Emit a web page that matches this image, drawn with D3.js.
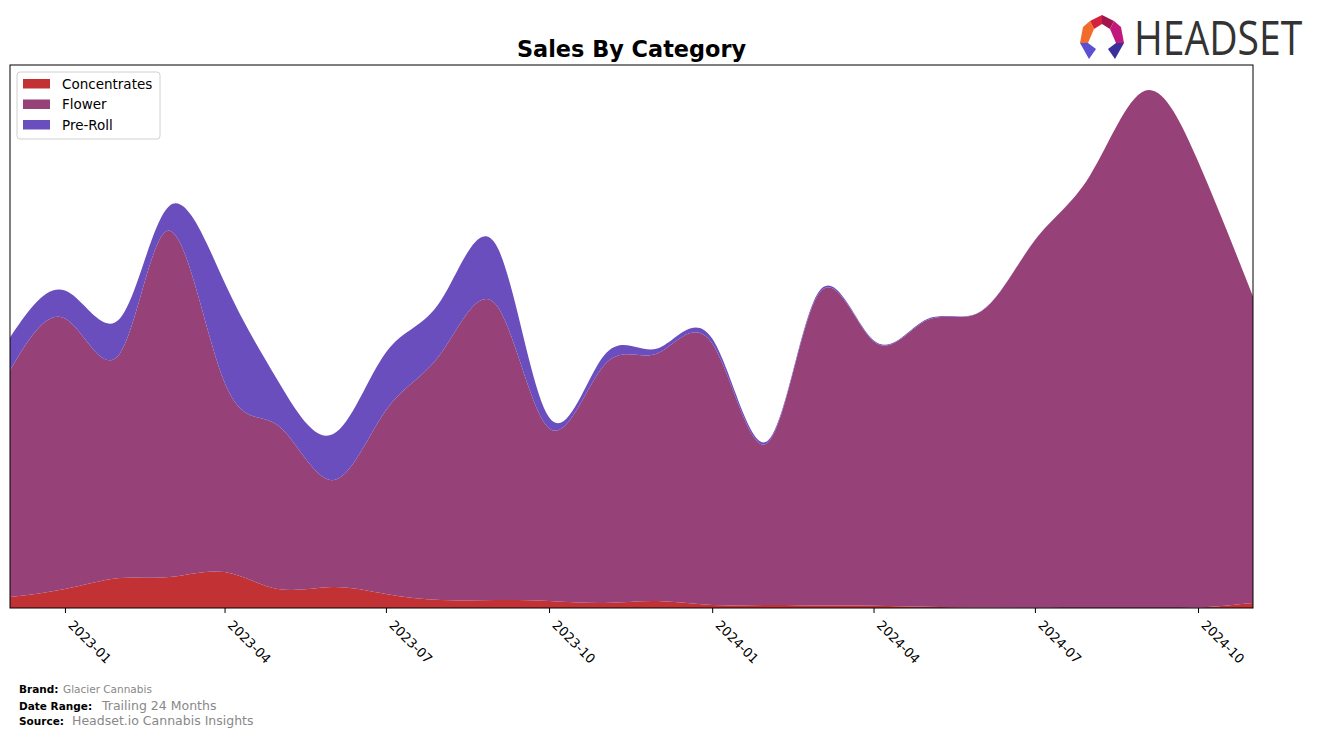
<!DOCTYPE html>
<html>
<head>
<meta charset="utf-8">
<script src="https://cdn.jsdelivr.net/npm/d3@7"></script>
<style>
  body { margin: 0; background: #fff; }
  text { font-family: "DejaVu Sans", sans-serif; }
</style>
</head>
<body>
<div id="plot"></div>
<script>
// monthly sales, arbitrary units
const months = ["2022-12","2023-01","2023-02","2023-03","2023-04","2023-05","2023-06","2023-07",
  "2023-08","2023-09","2023-10","2023-11","2023-12","2024-01","2024-02","2024-03","2024-04",
  "2024-05","2024-06","2024-07","2024-08","2024-09","2024-10","2024-11"];
const concentrates = [11,19,30,31,36,19,21,14,8,8,7,5,7,3,3,2.5,2.3,1.3,0.5,0.3,0,0,0.5,5];
const flower = [227,271,225,347,190,164,107,184,247,296,173,238,248,262,162,312,265,287,297,368,433,518,447,307];
const preRoll = [33,28,35,25,100,45,46,58,53,60,11,10,5,5,2,2,1,1,0.3,0.2,0,0,0,0];

const keys = ["Concentrates", "Flower", "Pre-Roll"];
const colors = {"Concentrates": "#c23234", "Flower": "#964177", "Pre-Roll": "#6a4ebd"};

const parse = d3.timeParse("%Y-%m");
const rows = months.map((m, i) => ({
  date: parse(m),
  "Concentrates": concentrates[i],
  "Flower": flower[i],
  "Pre-Roll": preRoll[i]
}));

const W = 1317, H = 738;
const margin = {top: 65, right: 64, bottom: 130, left: 10};
const width = W - margin.left - margin.right;
const height = H - margin.top - margin.bottom;

const svg = d3.select("#plot").append("svg")
  .attr("width", W).attr("height", H);

svg.append("text")
  .attr("x", margin.left + width / 2).attr("y", 57)
  .attr("text-anchor", "middle")
  .style("font-size", "22.4px").style("font-weight", "bold")
  .text("Sales By Category");

svg.append("clipPath").attr("id", "clip")
  .append("rect").attr("width", width).attr("height", height);

const g = svg.append("g")
  .attr("transform", "translate(" + margin.left + "," + margin.top + ")");

const x = d3.scaleTime()
  .domain([parse("2022-12"), parse("2024-11")])
  .range([0, width]);

const stacked = d3.stack().keys(keys)(rows);
const maxTotal = d3.max(stacked[stacked.length - 1], d => d[1]);
const y = d3.scaleLinear()
  .domain([0, maxTotal * 1.05])
  .range([height, 0]);

const area = d3.area()
  .x(d => x(d.data.date))
  .y0(d => y(d[0]))
  .y1(d => y(d[1]))
  .curve(d3.curveNatural);

g.append("g").attr("clip-path", "url(#clip)")
  .selectAll("path.layer")
  .data(stacked)
  .enter()
  .append("path")
  .attr("class", "layer")
  .attr("d", area)
  .style("fill", d => colors[d.key]);

// frame
g.append("rect")
  .attr("width", width).attr("height", height)
  .style("fill", "none").style("stroke", "#000").style("stroke-width", 1);

const xAxis = d3.axisBottom(x)
  .ticks(d3.timeMonth.every(3))
  .tickFormat(d3.timeFormat("%Y-%m"))
  .tickSize(5);

const ax = g.append("g")
  .attr("transform", "translate(0," + height + ")")
  .call(xAxis);
ax.select(".domain").remove();
ax.selectAll(".tick line").style("stroke", "#000");
ax.selectAll(".tick text")
  .style("font-size", "13px")
  .style("fill", "#000")
  .attr("text-anchor", "start")
  .attr("dy", null)
  .attr("y", 0)
  .attr("transform", "translate(2,18) rotate(45)");

// legend
const lg = svg.append("g").attr("transform", "translate(17,72)");
lg.append("rect")
  .attr("width", 143).attr("height", 67).attr("rx", 3)
  .style("fill", "#fff").style("stroke", "#d0d0d0");
keys.forEach((k, i) => {
  lg.append("rect")
    .attr("x", 6).attr("y", 7 + i * 20.5)
    .attr("width", 27).attr("height", 9.5)
    .style("fill", colors[k]);
  lg.append("text")
    .attr("x", 45).attr("y", 16.5 + i * 20.5)
    .style("font-size", "13.5px")
    .text(k);
});

// footer
const foot = [
  ["Brand:", "Glacier Cannabis", 693, 63, "10.5px"],
  ["Date Range:", "Trailing 24 Months", 710, 102, "12.5px"],
  ["Source:", "Headset.io Cannabis Insights", 725, 72, "12.5px"]
];
foot.forEach(f => {
  svg.append("text").attr("x", 19).attr("y", f[2])
    .style("font-size", "10.5px").style("font-weight", "bold").text(f[0]);
  svg.append("text").attr("x", f[3]).attr("y", f[2])
    .style("font-size", f[4]).style("fill", "#888").text(f[1]);
});

// logo
const logo = svg.append("g").attr("transform", "translate(1080,15)");
const pieces = [
  {p: [[22,0],[10,6],[14,14],[22,9]], c: "#d4213d"},
  {p: [[22,0],[34,6],[30,14],[22,9]], c: "#a3154d"},
  {p: [[10,6],[3,12],[0,28],[8,28],[14,14]], c: "#f26b2a"},
  {p: [[34,6],[41,12],[44,28],[36,28],[30,14]], c: "#c2187e"},
  {p: [[0,28],[8,28],[16,34],[9,44]], c: "#5b4fd6"},
  {p: [[44,28],[36,28],[28,34],[35,44]], c: "#3b2f9c"}
];
pieces.forEach(pc => {
  logo.append("polygon")
    .attr("points", pc.p.map(q => q.join(",")).join(" "))
    .style("fill", pc.c);
});
svg.append("g")
  .attr("transform", "translate(1134,55) scale(0.85,1)")
  .append("text")
  .attr("textLength", 198).attr("lengthAdjust", "spacingAndGlyphs")
  .style("font-family", "'Open Sans', sans-serif")
  .style("font-size", "47px")
  .style("fill", "#333")
  .text("HEADSET");
</script>
</body>
</html>
